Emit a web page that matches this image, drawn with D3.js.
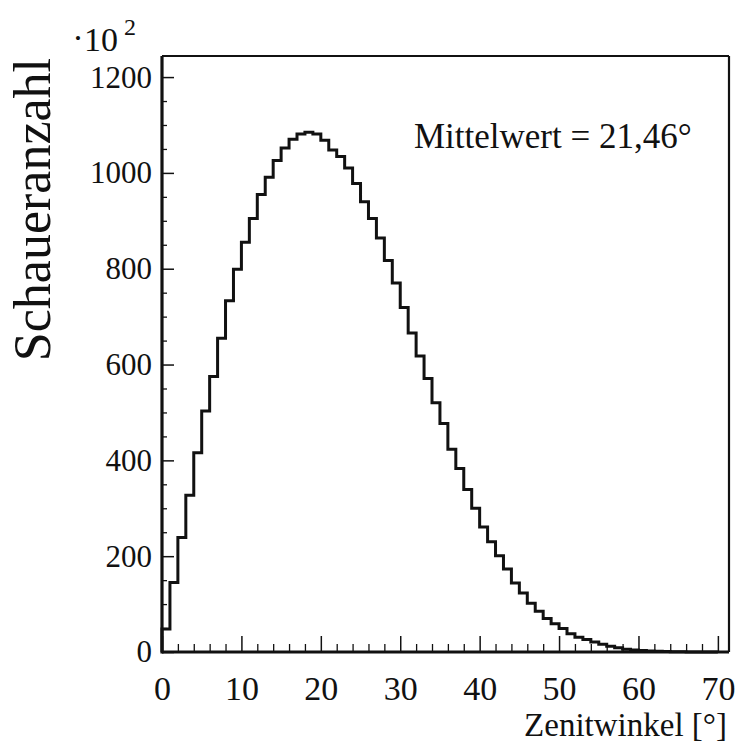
<!DOCTYPE html>
<html>
<head>
<meta charset="utf-8">
<script src="https://cdn.jsdelivr.net/npm/d3@7"></script>
<style>
  html, body { margin: 0; padding: 0; background: #fff; }
  svg { display: block; }
  text { font-family: "Liberation Serif", "Times New Roman", serif; fill: #111; }
</style>
</head>
<body>
<div id="chart"></div>
<script>
// Histogram: counts (×10²) per 1° zenith-angle bin, bin i covers [i, i+1)
const binStart = 0;
const binWidth = 1;
const counts = [
  48, 145, 239, 327, 416, 503, 575, 655, 733, 799,
  855, 905, 955, 991, 1026, 1052, 1070, 1081, 1085, 1081,
  1068, 1048, 1034, 1010, 978, 940, 905, 864, 817, 770,
  719, 666, 618, 571, 520, 477, 423, 383, 339, 300,
  261, 230, 201, 173, 144, 123, 102, 85, 70, 59,
  49, 38, 31, 26, 21, 16, 12, 9, 6, 4,
  3, 2, 1.5, 1, 0.5, 0.3, 0, 0, 0, 0
];
const xMajorTicks = [0, 10, 20, 30, 40, 50, 60, 70];
const xMinorTicks = d3.range(0, 72, 2);
const yMajorTicks = [0, 200, 400, 600, 800, 1000, 1200];
const yMinorTicks = d3.range(0, 1250, 50);
const xTitle = "Zenitwinkel [°]";
const yTitle = "Schaueranzahl";
const scaleNote = "10";
const scaleExp = "2";
const meanLabel = "Mittelwert = 21,46°";

const W = 737, H = 747;
const mLeft = 162, mRight = 729, mTop = 56, mBottom = 652;
const serif = '"Liberation Serif", "Times New Roman", serif';

const svg = d3.select("#chart").append("svg").attr("width", W).attr("height", H);

const x = d3.scaleLinear().domain([0, 71.4]).range([mLeft, mRight]);
const y = d3.scaleLinear().domain([0, 1244]).range([mBottom, mTop]);

// minor ticks
svg.append("g").attr("transform", `translate(0,${mBottom})`)
  .call(d3.axisBottom(x).tickValues(xMinorTicks.filter(v => v % 10 !== 0)).tickSize(-8).tickFormat(""))
  .call(g => g.select(".domain").remove())
  .selectAll("line").attr("stroke", "#111").attr("stroke-width", 1.3);
svg.append("g").attr("transform", `translate(${mLeft},0)`)
  .call(d3.axisLeft(y).tickValues(yMinorTicks.filter(v => v % 200 !== 0)).tickSize(-5).tickFormat(""))
  .call(g => g.select(".domain").remove())
  .selectAll("line").attr("stroke", "#111").attr("stroke-width", 1.3);

// major ticks + labels
const gx = svg.append("g").attr("transform", `translate(0,${mBottom})`)
  .call(d3.axisBottom(x).tickValues(xMajorTicks).tickSize(-16).tickPadding(24).tickFormat(d3.format("d")));
gx.attr("font-family", serif);
gx.select(".domain").remove();
gx.selectAll("line").attr("stroke", "#111").attr("stroke-width", 1.5);
gx.selectAll("text").attr("font-size", 34).attr("fill", "#111").style("font-family", serif);

const gy = svg.append("g").attr("transform", `translate(${mLeft},0)`)
  .call(d3.axisLeft(y).tickValues(yMajorTicks).tickSize(-12).tickPadding(10).tickFormat(d3.format("d")));
gy.attr("font-family", serif);
gy.select(".domain").remove();
gy.selectAll("line").attr("stroke", "#111").attr("stroke-width", 1.5);
gy.selectAll("text").attr("font-size", 31).attr("fill", "#111").style("font-family", serif);

// histogram outline
const pts = [[binStart, 0]];
counts.forEach((c, i) => pts.push([binStart + i * binWidth, c]));
pts.push([binStart + counts.length * binWidth, counts[counts.length - 1]]);
const line = d3.line().x(d => x(d[0])).y(d => y(d[1])).curve(d3.curveStepAfter);
svg.append("path").datum(pts).attr("d", line)
  .attr("fill", "none").attr("stroke", "#111").attr("stroke-width", 3).attr("stroke-linejoin", "miter");

// frame
svg.append("line").attr("x1", mLeft).attr("x2", mLeft).attr("y1", mTop).attr("y2", mBottom + 1.5)
  .attr("stroke", "#111").attr("stroke-width", 3.2);
svg.append("line").attr("x1", mLeft).attr("x2", mRight).attr("y1", mBottom).attr("y2", mBottom)
  .attr("stroke", "#111").attr("stroke-width", 3);
svg.append("line").attr("x1", mLeft).attr("x2", mRight).attr("y1", mTop).attr("y2", mTop)
  .attr("stroke", "#111").attr("stroke-width", 2.2);
svg.append("line").attr("x1", mRight).attr("x2", mRight).attr("y1", mTop).attr("y2", mBottom)
  .attr("stroke", "#111").attr("stroke-width", 2.2);

// texts
svg.append("text").attr("x", 414).attr("y", 148).attr("font-size", 35).text(meanLabel);
svg.append("text").attr("x", 727).attr("y", 736).attr("text-anchor", "end").attr("font-size", 33).text(xTitle);
svg.append("text").attr("transform", "translate(50,58) rotate(-90)").attr("text-anchor", "end")
  .attr("font-size", 52).text(yTitle);

const note = svg.append("text").attr("x", 75).attr("y", 51).attr("font-size", 34);
note.append("tspan").text("\u2022").attr("font-size", 17).attr("dy", -7);
note.append("tspan").text(scaleNote).attr("dx", 3).attr("dy", 7);
note.append("tspan").text(scaleExp).attr("font-size", 24).attr("dx", 6).attr("dy", -16);
</script>
</body>
</html>
